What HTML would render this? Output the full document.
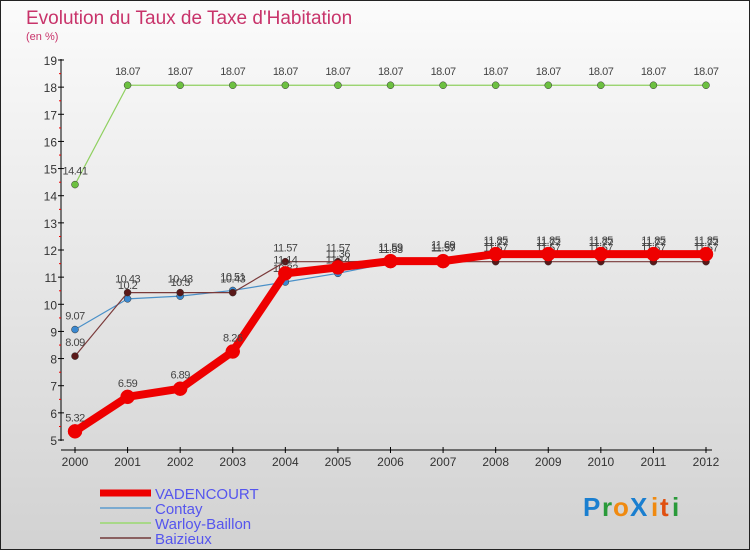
<!DOCTYPE html>
<html><head><meta charset="utf-8"><style>
body{margin:0}
svg{display:block;font-family:"Liberation Sans",sans-serif}
</style></head><body>
<svg id="c" width="750" height="550" xmlns="http://www.w3.org/2000/svg">
<defs><linearGradient id="bg" x1="0" y1="0" x2="0" y2="1"><stop offset="0" stop-color="#fbfbfb"/><stop offset="1" stop-color="#d2d2d2"/></linearGradient></defs>
<rect x="0.5" y="0.5" width="749" height="549" fill="url(#bg)" stroke="#222"/>
<text x="26" y="24" font-size="19" fill="#c8336a">Evolution du Taux de Taxe d'Habitation</text>
<text x="26" y="40" font-size="11" fill="#c8336a">(en %)</text>
<g id="axes"></g><g id="series"></g><g id="legend"></g>
<g font-size="26" font-weight="bold">
<text x="583" y="516" fill="#1a7fd0">P</text><text x="602" y="516" fill="#2a9a3a">r</text><text x="613" y="516" fill="#f08a10">o</text><text x="630" y="516" fill="#1a7fd0">X</text><text x="651" y="516" fill="#f08a10">i</text><text x="660" y="516" fill="#e05010">t</text><text x="672" y="516" fill="#2a9a3a">i</text></g>
</svg>
<script>
const years=[2000,2001,2002,2003,2004,2005,2006,2007,2008,2009,2010,2011,2012];
const yTicks=[5,6,7,8,9,10,11,12,13,14,15,16,17,18,19];
const vadencourt=[5.32,6.59,6.89,8.26,11.14,11.36,11.59,11.59,11.85,11.85,11.85,11.85,11.85];
const contay=[9.07,10.2,10.3,10.51,10.82,11.14,11.53,11.69,11.77,11.77,11.77,11.77,11.77];
const warloy=[14.41,18.07,18.07,18.07,18.07,18.07,18.07,18.07,18.07,18.07,18.07,18.07,18.07];
const baizieux=[8.09,10.43,10.43,10.43,11.57,11.57,11.59,11.57,11.57,11.57,11.57,11.57,11.57];
const NS='http://www.w3.org/2000/svg';
const X=i=>75+i*(706-75)/(years.length-1);
const Y=v=>440-(v-5)*(440-60)/14;
function mk(p,t,a){const e=document.createElementNS(NS,t);for(const k in a)e.setAttribute(k,a[k]);p.appendChild(e);return e;}
const ax=document.getElementById('axes');
let l=mk(ax,'line',{x1:61,y1:59,x2:61,y2:441,stroke:'#000'});


l=mk(ax,'line',{x1:61,y1:450,x2:712,y2:450,stroke:'#000'});


yTicks.forEach(v=>{const y=Y(v);mk(ax,'line',{x1:58,x2:64,y1:y,y2:y,stroke:'#000'});
if(v<19)mk(ax,'line',{x1:59,x2:61,y1:y-13.5,y2:y-13.5,stroke:'#e00'});
const t=mk(ax,'text',{x:57,y:y+5,'text-anchor':'end','font-size':12,fill:'#333'});t.textContent=v;

});
years.forEach((yr,i)=>{const x=X(i);mk(ax,'line',{x1:x,x2:x,y1:447,y2:453,stroke:'#000'});
const t=mk(ax,'text',{x:x,y:466,'text-anchor':'middle','font-size':12,fill:'#333'});t.textContent=yr;

});
const sg=document.getElementById('series');
const defs=[['warloy-baillon',warloy,'#8fd060','#6cc040',1.2,3.5],['contay',contay,'#4a90c8','#3a88d0',1.2,3.5],['baizieux',baizieux,'#7a3a3a','#5a1818',1.2,3.5],['vadencourt',vadencourt,'#ee0000','#ee0000',8,7]];
defs.forEach(([n,d,c,pc,w,r])=>{
const g=mk(sg,'g',{});


const pl=mk(g,'polyline',{points:d.map((v,i)=>X(i)+','+Y(v)).join(' '),fill:'none',stroke:c,'stroke-width':w,'stroke-linejoin':'round'});
d.forEach((v,i)=>{const p=mk(g,'circle',{cx:X(i),cy:Y(v),r:r,fill:pc,stroke:n==='vadencourt'?'#ee0000':'#333','stroke-width':0.5});


const t=mk(g,'text',{x:X(i),y:Y(v)-10,'text-anchor':'middle','font-size':11,fill:'#444','letter-spacing':'-0.5'});t.textContent=v;

});});
const lg=document.getElementById('legend');
[['VADENCOURT','#ee0000',7],['Contay','#7aaad0',2],['Warloy-Baillon','#a8d888',2],['Baizieux','#8a6060',2]].forEach(([n,c,w],i)=>{
const y=493+i*15;
const g=mk(lg,'g',{});


mk(g,'line',{x1:100,x2:151,y1:y,y2:y,stroke:c,'stroke-width':w});
const t=mk(g,'text',{x:155,y:y+6,'font-size':15,fill:'#5555ee'});t.textContent=n;});
</script>
</body></html>
